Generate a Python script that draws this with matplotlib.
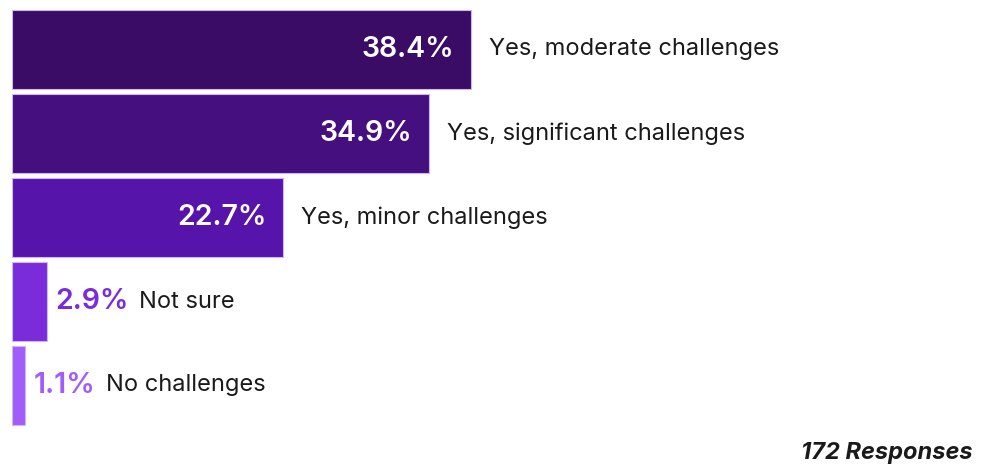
import matplotlib.pyplot as plt

# survey results, largest first
labels = ["Yes, moderate challenges", "Yes, significant challenges",
          "Yes, minor challenges", "Not sure", "No challenges"]
values = [38.4, 34.9, 22.7, 2.9, 1.1]
colors = ["#3a0c66", "#450f80", "#5614aa", "#7a2cda", "#a25cf7"]
n_responses = 172

plt.rcParams['font.family'] = ['Inter', 'DejaVu Sans']

fig = plt.figure(figsize=(9.92, 4.68), dpi=100)
ax = fig.add_axes([12 / 992, 40.5 / 468, 968 / 992, 420 / 468])

pos = list(range(len(values)))
ax.barh(pos, values, height=0.95, color=colors, edgecolor="#cdb6f2", linewidth=0.8)

ax.set_xlim(0, 81)
ax.set_ylim(len(values) - 0.5, -0.5)
ax.axis("off")

for i, (v, lab, c) in enumerate(zip(values, labels, colors)):
    # value goes inside the bar when there is room, otherwise right after it
    if v > 15:
        ax.annotate(f"{v}%", xy=(v, i), xytext=(-12, 0), textcoords="offset points",
                    ha="right", va="center", color="white", fontsize=20.5, fontweight="semibold")
        ax.annotate(lab, xy=(v, i), xytext=(13, 0), textcoords="offset points",
                    ha="left", va="center", color="#1a1a1a", fontsize=17)
    else:
        t = ax.annotate(f"{v}%", xy=(v, i), xytext=(6, 0), textcoords="offset points",
                        ha="left", va="center", color=c, fontsize=20.5, fontweight="semibold")
        ax.annotate(lab, xy=(1, 0.5), xycoords=t, xytext=(8, 0), textcoords="offset points",
                    ha="left", va="center", color="#1a1a1a", fontsize=17)

fig.text(973 / 992, 1 - 453 / 468, f"{n_responses} Responses", ha="right", va="center",
         fontsize=17, fontweight="bold", fontstyle="italic", color="#1a1a1a")

fig.savefig("out.png", dpi=100)
